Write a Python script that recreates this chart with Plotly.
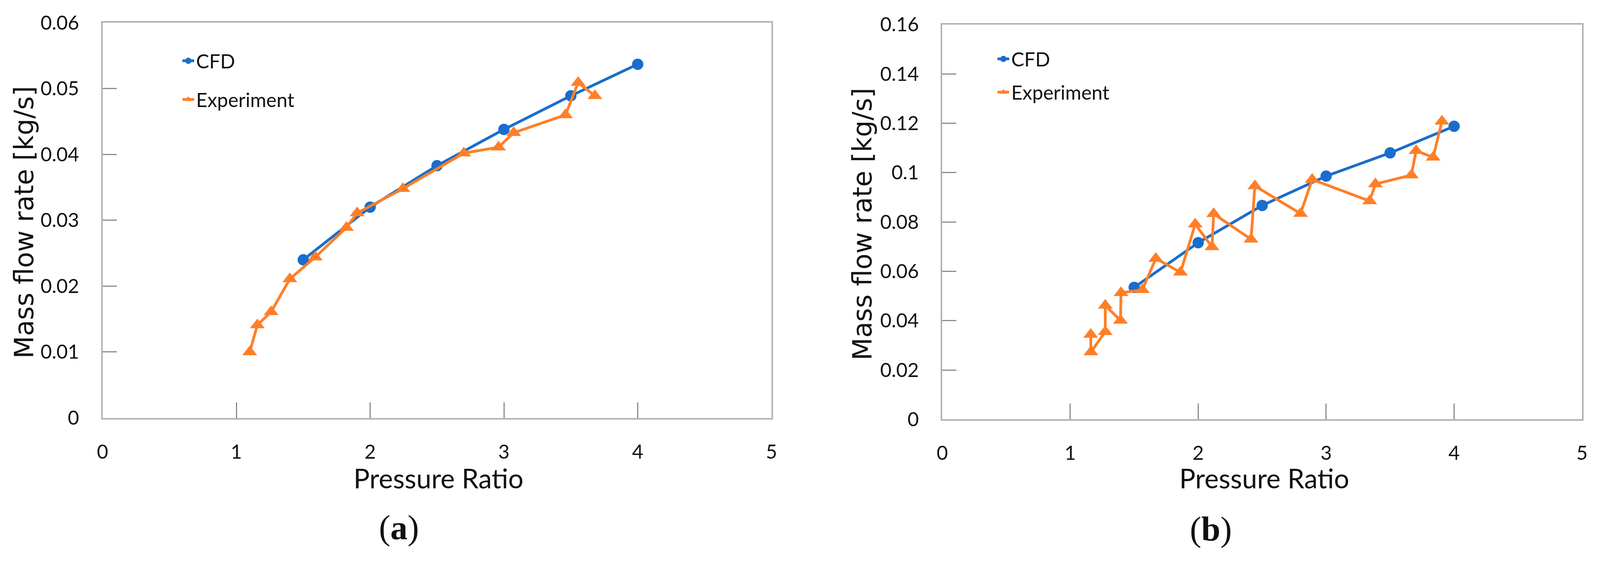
import plotly.graph_objects as go

# ---------------- data ----------------
# Panel (a)
a_cfd_x = [1.5, 2.0, 2.5, 3.0, 3.5, 4.0]
a_cfd_y = [0.0240, 0.0320, 0.0383, 0.0438, 0.0489, 0.0537]
a_exp_x = [1.10, 1.157, 1.26, 1.40, 1.59, 1.823, 1.903, 2.245, 2.70, 2.96, 3.073, 3.46, 3.555, 3.68]
a_exp_y = [0.0100, 0.0141, 0.0161, 0.0211, 0.0244, 0.0289, 0.0311, 0.0348, 0.0402, 0.0411, 0.0433, 0.0460, 0.0509, 0.0489]

# Panel (b)
b_cfd_x = [1.5, 2.0, 2.5, 3.0, 3.5, 4.0]
b_cfd_y = [0.0535, 0.0716, 0.0867, 0.0986, 0.1080, 0.1188]
b_exp_x = [1.16, 1.162, 1.274, 1.274, 1.393, 1.397, 1.564, 1.669, 1.862, 1.977, 2.108, 2.121,
           2.413, 2.443, 2.80, 2.891, 3.34, 3.385, 3.666, 3.703, 3.836, 3.905]
b_exp_y = [0.0344, 0.0273, 0.0355, 0.0462, 0.0401, 0.0513, 0.0525, 0.0652, 0.0596, 0.0791, 0.0699, 0.0833,
           0.0730, 0.0946, 0.0834, 0.0972, 0.0885, 0.0954, 0.0990, 0.1089, 0.1062, 0.1208]

x_ticks = [0, 1, 2, 3, 4, 5]
x_ticktext = ["0", "1", "2", "3", "4", "5"]
a_y_ticks = [0, 0.01, 0.02, 0.03, 0.04, 0.05, 0.06]
a_y_ticktext = ["0", "0.01", "0.02", "0.03", "0.04", "0.05", "0.06"]
b_y_ticks = [0, 0.02, 0.04, 0.06, 0.08, 0.10, 0.12, 0.14, 0.16]
b_y_ticktext = ["0", "0.02", "0.04", "0.06", "0.08", "0.1", "0.12", "0.14", "0.16"]

series_names = ["CFD", "Experiment"]
x_title = "Pressure Ratio"
y_title = "Mass flow rate [kg/s]"
panel_labels = ["(<b>a</b>)", "(<b>b</b>)"]

# ---------------- style ----------------
# Positions are given in reference-image pixels (4259 x 1459) and turned into
# fractions of the figure, which fills the browser window (minus the body margin).
RW, RH = 4259, 1459
OFF = 8
SHIFT_Y = 20
BLUE = "#1a6dcc"
ORANGE = "#ff7f27"
BORDER = "#b3b3b3"
TICKC = "#8c8c8c"
TICK_FONT = dict(family="Lato, Noto Sans, sans-serif", size=50, color="#111111")
LEG_FONT = dict(family="Lato, Noto Sans, sans-serif", size=50, color="#111111")


def px_x(p):
    return (p - OFF) / (RW - 2 * OFF)


def px_y(p):
    return 1 - (p - SHIFT_Y - OFF) / (RH - 2 * OFF)


fig = go.Figure()

fig.add_trace(go.Scatter(x=a_cfd_x, y=a_cfd_y, name=series_names[0], mode="lines+markers",
                         line=dict(color=BLUE, width=7), marker=dict(symbol="circle", size=29, color=BLUE),
                         xaxis="x", yaxis="y", legend="legend", legendgroup="a1"))
fig.add_trace(go.Scatter(x=a_exp_x, y=a_exp_y, name=series_names[1], mode="lines+markers",
                         line=dict(color=ORANGE, width=7), marker=dict(symbol="triangle-up", size=33, color=ORANGE),
                         xaxis="x", yaxis="y", legend="legend", legendgroup="a2"))
fig.add_trace(go.Scatter(x=b_cfd_x, y=b_cfd_y, name=series_names[0], mode="lines+markers",
                         line=dict(color=BLUE, width=7), marker=dict(symbol="circle", size=29, color=BLUE),
                         xaxis="x2", yaxis="y2", legend="legend2", legendgroup="b1"))
fig.add_trace(go.Scatter(x=b_exp_x, y=b_exp_y, name=series_names[1], mode="lines+markers",
                         line=dict(color=ORANGE, width=7), marker=dict(symbol="triangle-up", size=33, color=ORANGE),
                         xaxis="x2", yaxis="y2", legend="legend2", legendgroup="b2"))

axis_common = dict(showline=True, linecolor=BORDER, linewidth=4, mirror=True,
                   ticks="inside", tickcolor=TICKC, tickwidth=3, ticklabeloverflow="allow",
                   showgrid=False, zeroline=False, tickfont=TICK_FONT, fixedrange=True)

fig.update_layout(
    autosize=True,
    margin=dict(l=0, r=0, t=0, b=0),
    paper_bgcolor="white", plot_bgcolor="white",
    showlegend=True,
    xaxis=dict(domain=[px_x(259), px_x(2053)], range=[0, 5], tickvals=x_ticks, ticktext=x_ticktext,
               ticklen=40, ticklabelstandoff=40, anchor="y", **axis_common),
    yaxis=dict(domain=[px_y(1103), px_y(47)], range=[0, 0.06], tickvals=a_y_ticks, ticktext=a_y_ticktext,
               ticklen=36, ticklabelstandoff=46, anchor="x", **axis_common),
    xaxis2=dict(domain=[px_x(2511), px_x(4227)], range=[0, 5], tickvals=x_ticks, ticktext=x_ticktext,
                ticklen=40, ticklabelstandoff=40, anchor="y2", **axis_common),
    yaxis2=dict(domain=[px_y(1107), px_y(52)], range=[0, 0.16], tickvals=b_y_ticks, ticktext=b_y_ticktext,
                ticklen=36, ticklabelstandoff=46, anchor="x2", **axis_common),
    legend=dict(x=px_x(468), y=px_y(108), xanchor="left", yanchor="top", font=LEG_FONT,
                bgcolor="rgba(0,0,0,0)", traceorder="grouped", tracegroupgap=31, itemwidth=30),
    legend2=dict(x=px_x(2654), y=px_y(103), xanchor="left", yanchor="top", font=LEG_FONT,
                 bgcolor="rgba(0,0,0,0)", traceorder="grouped", tracegroupgap=17, itemwidth=30),
)

ann_common = dict(xref="paper", yref="paper", showarrow=False, xanchor="center", yanchor="middle")
YT_FONT = dict(family="DejaVu Sans, sans-serif", size=67, color="#111111")
XT_FONT = dict(family="Lato, Noto Sans, sans-serif", size=69, color="#111111")
PL_FONT = dict(family="Liberation Serif, Times New Roman, serif", size=88, color="#111111")

# axis titles
fig.add_annotation(text=x_title, x=px_x(1160), y=px_y(1264), font=XT_FONT, **ann_common)
fig.add_annotation(text=x_title, x=px_x(3375), y=px_y(1264), font=XT_FONT, **ann_common)
fig.add_annotation(text=y_title, x=px_x(48), y=px_y(580), font=YT_FONT, textangle=-90, **ann_common)
fig.add_annotation(text=y_title, x=px_x(2298), y=px_y(585), font=YT_FONT, textangle=-90, **ann_common)
# panel labels
fig.add_annotation(text=panel_labels[0], x=px_x(1054), y=px_y(1396), font=PL_FONT, **ann_common)
fig.add_annotation(text=panel_labels[1], x=px_x(3232), y=px_y(1400), font=PL_FONT, **ann_common)

fig.write_html("out.html", default_width="calc(100vw - 16px)", default_height="calc(100vh - 16px)")
